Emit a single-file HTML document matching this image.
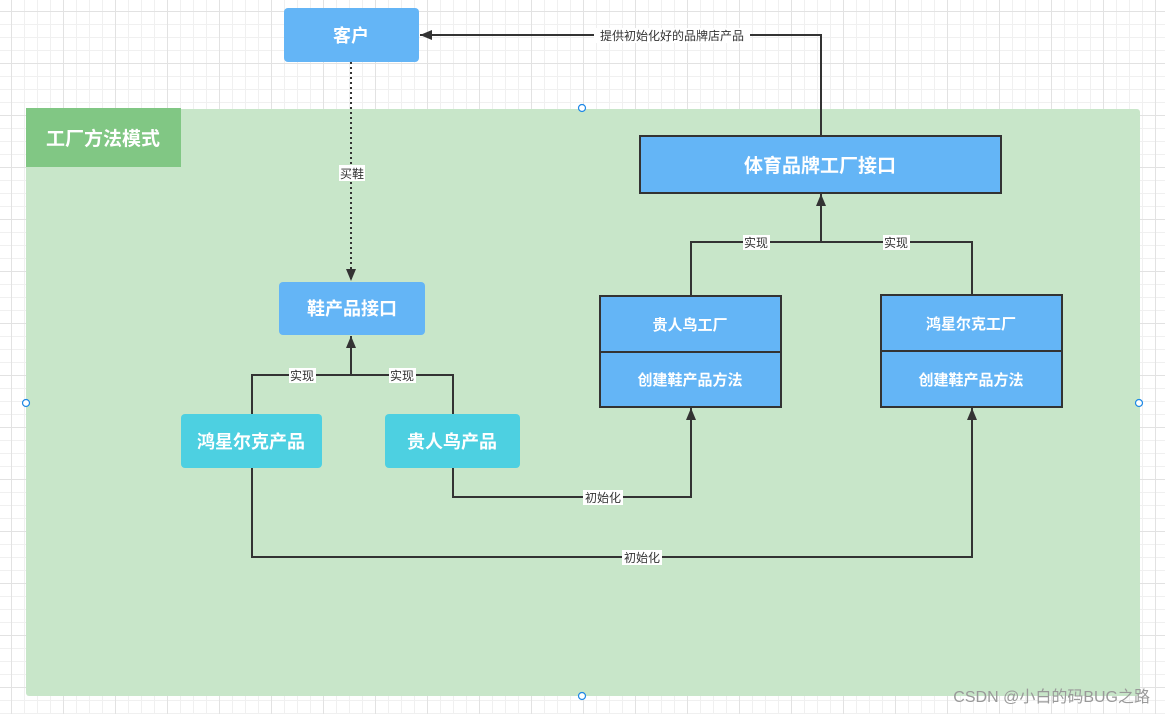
<!DOCTYPE html>
<html><head><meta charset="utf-8"><style>
html,body{margin:0;padding:0;background:#fff;}
body{width:1165px;height:714px;overflow:hidden;position:relative;
background-image:linear-gradient(#e2e2e2 1px,transparent 1px),linear-gradient(90deg,#e2e2e2 1px,transparent 1px),linear-gradient(#f0f0f0 1px,transparent 1px),linear-gradient(90deg,#f0f0f0 1px,transparent 1px);
background-size:52px 52px,52px 52px,13px 13px,13px 13px;background-position:11px 11px;}
svg{position:absolute;left:0;top:0;}
text{font-family:"Liberation Sans","Noto Sans CJK SC",sans-serif;}
</style></head><body>
<svg width="1165" height="714" viewBox="0 0 1165 714">
<defs><marker id="a" viewBox="0 0 12 10" refX="12" refY="5" markerWidth="12" markerHeight="10" orient="auto" markerUnits="userSpaceOnUse"><path d="M0,0L12,5L0,10z" fill="#333"/></marker></defs>
<rect x="26" y="109" width="1114" height="587" rx="3" fill="#c8e6c9"/>
<rect x="26" y="108" width="155" height="59" fill="#81c784"/>
<text x="103" y="145" font-size="19" font-weight="bold" fill="#fff" text-anchor="middle">工厂方法模式</text>
<g stroke="#333" stroke-width="2" fill="none">
<path d="M351,62V281" stroke-dasharray="2,3" marker-end="url(#a)"/>
<path d="M821,136V35H420" marker-end="url(#a)"/>
<path d="M252,414V375H453V414M351,375V336" marker-end="url(#a)"/>
<path d="M691,296V242H972V295M821,242V194" marker-end="url(#a)"/>
<path d="M453,468V497H691V408" marker-end="url(#a)"/>
<path d="M252,468V557H972V408" marker-end="url(#a)"/>
</g>
<rect x="284" y="8" width="135" height="54" rx="4" fill="#64b5f6"/>
<text x="351" y="42" font-size="18" font-weight="bold" fill="#fff" text-anchor="middle">客户</text>
<rect x="279" y="282" width="146" height="53" rx="4" fill="#64b5f6"/>
<text x="352" y="315" font-size="18" font-weight="bold" fill="#fff" text-anchor="middle">鞋产品接口</text>
<rect x="181" y="414" width="141" height="54" rx="4" fill="#4dd0e1"/>
<text x="251" y="448" font-size="18" font-weight="bold" fill="#fff" text-anchor="middle">鸿星尔克产品</text>
<rect x="385" y="414" width="135" height="54" rx="4" fill="#4dd0e1"/>
<text x="452" y="448" font-size="18" font-weight="bold" fill="#fff" text-anchor="middle">贵人鸟产品</text>
<rect x="640" y="136" width="361" height="57" fill="#64b5f6" stroke="#333" stroke-width="2"/>
<text x="820" y="172" font-size="19" font-weight="bold" fill="#fff" text-anchor="middle">体育品牌工厂接口</text>
<g stroke="#333" stroke-width="2" fill="#64b5f6">
<rect x="600" y="296" width="181" height="111"/><path d="M600,352H781"/>
<rect x="881" y="295" width="181" height="112"/><path d="M881,351H1062"/>
</g>
<g font-size="15" font-weight="bold" fill="#fff" text-anchor="middle">
<text x="690" y="330">贵人鸟工厂</text><text x="690" y="385">创建鞋产品方法</text>
<text x="971" y="329">鸿星尔克工厂</text><text x="971" y="385">创建鞋产品方法</text>
</g>
<g font-size="12" fill="#333" text-anchor="middle">
<rect x="594" y="28" width="156" height="15" fill="#fff"/><text x="672" y="40">提供初始化好的品牌店产品</text>
<rect x="339" y="165" width="26" height="16" fill="#fff"/><text x="352" y="178">买鞋</text>
<rect x="289" y="368" width="27" height="15" fill="#fff"/><text x="302" y="380">实现</text>
<rect x="389" y="368" width="27" height="15" fill="#fff"/><text x="402" y="380">实现</text>
<rect x="743" y="235" width="27" height="15" fill="#fff"/><text x="756" y="247">实现</text>
<rect x="883" y="235" width="27" height="15" fill="#fff"/><text x="896" y="247">实现</text>
<rect x="583" y="490" width="40" height="15" fill="#fff"/><text x="603" y="502">初始化</text>
<rect x="622" y="550" width="40" height="15" fill="#fff"/><text x="642" y="562">初始化</text>
</g>
<g fill="#fff" stroke="#1e88e5" stroke-width="1.2">
<circle cx="582" cy="108" r="3.5"/><circle cx="26" cy="403" r="3.5"/><circle cx="1139" cy="403" r="3.5"/><circle cx="582" cy="696" r="3.5"/>
</g>
<text x="1150" y="702" font-size="16" fill="#999" text-anchor="end">CSDN @小白的码BUG之路</text>
</svg>
</body></html>
